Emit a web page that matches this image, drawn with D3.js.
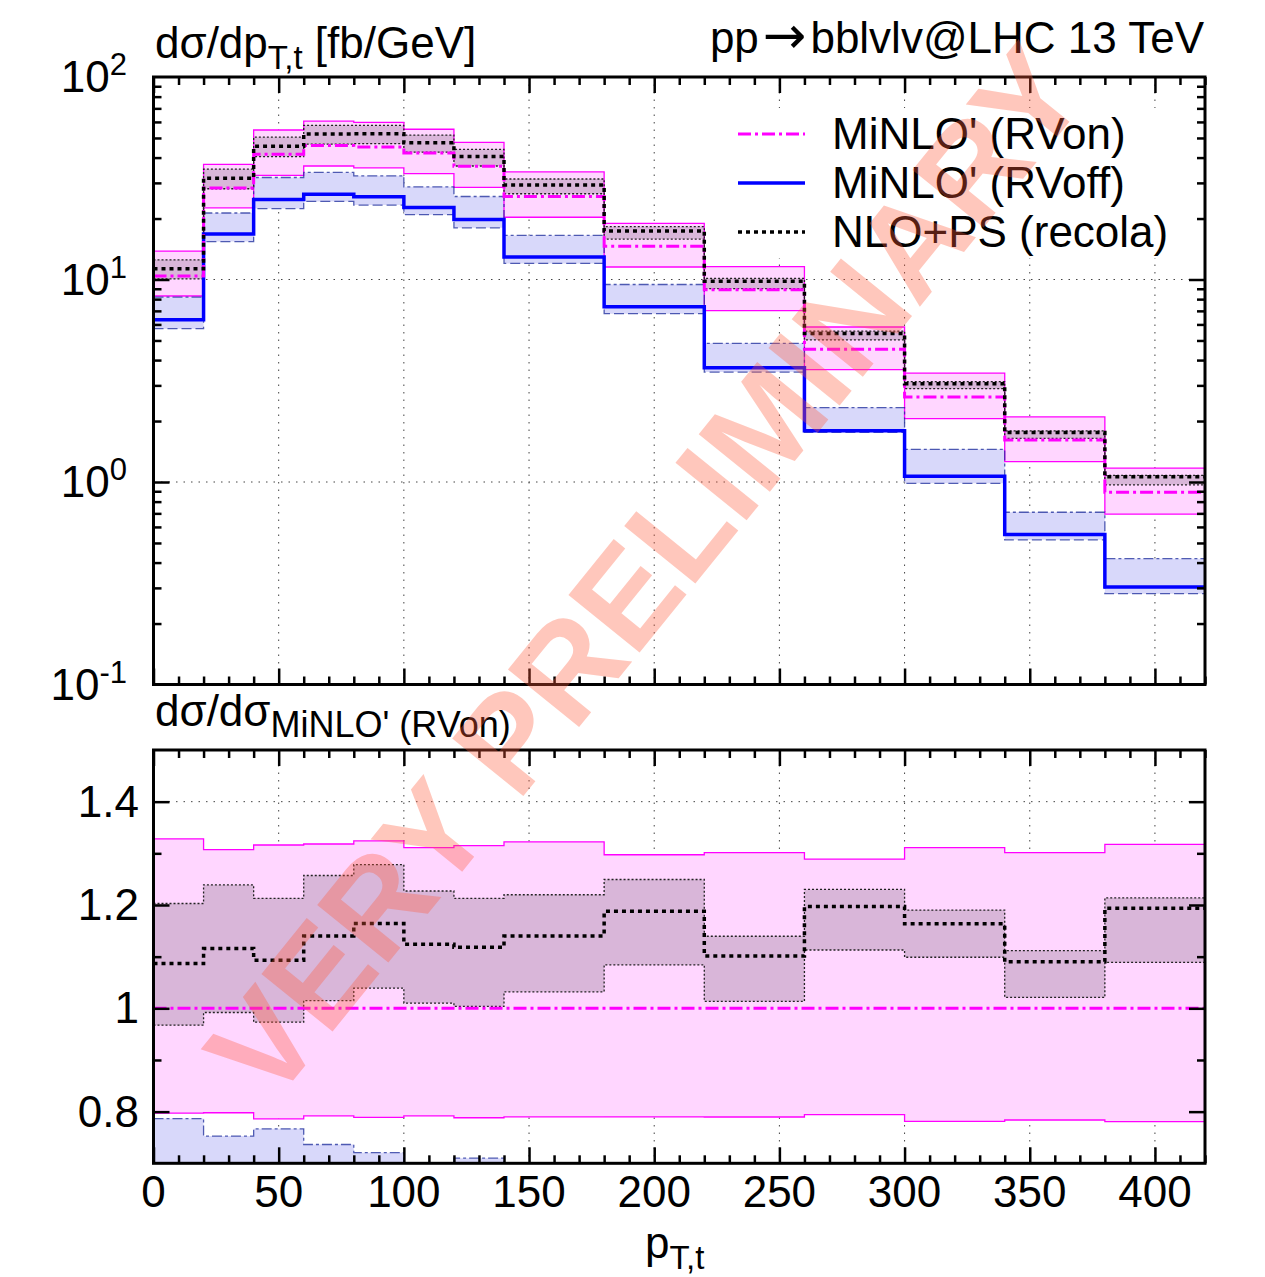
<!DOCTYPE html>
<html><head><meta charset="utf-8">
<script src="https://cdn.jsdelivr.net/npm/d3@7"></script>
<style>
body{margin:0;background:#fff}
text{font-family:"Liberation Sans",Arial,Helvetica,sans-serif;fill:#000}
</style>
</head><body>
<svg id="c" width="1265" height="1277"></svg>
<script>
// bin edges of the top-quark transverse momentum [GeV]
const binEdges = [0,20,40,60,80,100,120,140,180,220,260,300,340,380,420];

// MiNLO' (RVon): central value and scale-variation band [fb/GeV]
const rvonCentral = [10.4,28.3,41.6,45.9,45.1,42.1,36.2,25.7,14.6,8.89,4.52,2.63,1.61,0.889];
const rvonHigh    = [13.81,36.99,54.75,60.50,59.71,55.19,47.60,33.98,18.94,11.57,5.826,3.448,2.095,1.171];
const rvonLow     = [8.29,22.58,32.70,36.35,35.58,33.34,28.53,20.30,11.53,7.02,3.59,2.054,1.262,0.694];

// MiNLO' (RVoff)
const rvoffCentral = [6.33,16.8,24.8,26.4,25.6,22.7,19.8,12.9,7.34,3.67,1.79,1.067,0.55,0.303];
const rvoffHigh    = [8.18,21.3,31.9,33.8,32.5,28.7,25.7,16.5,9.45,4.84,2.33,1.45,0.709,0.418];
const rvoffLow     = [5.72,15.4,22.4,24.3,23.3,20.9,18.0,12.0,6.78,3.49,1.76,0.985,0.518,0.281];

// NLO+PS (recola)
const nloCentral = [11.30,31.58,45.47,52.33,52.50,47.32,40.47,29.30,17.34,9.79,5.41,3.06,1.755,1.061];
const nloHigh    = [12.51,35.06,50.46,57.70,57.64,51.66,43.91,31.35,18.24,10.13,5.56,3.13,1.79,1.079];
const nloLow     = [10.06,28.07,40.48,46.59,46.86,42.52,36.34,26.52,15.83,9.01,5.03,2.89,1.644,0.968];

const xTicks = [0,50,100,150,200,250,300,350,400];
const yTopTicks = [-1,0,1,2];          // decade exponents
const yBotTicks = [0.8,1,1.2,1.4];
const yBotLabels = ["0.8","1","1.2","1.4"];
const legendLabels = ["MiNLO' (RVon)","MiNLO' (RVoff)","NLO+PS (recola)"];

const svg = d3.select("#c");
const FS = 44, FSS = 35, FSUP = 31;

const x = d3.scaleLinear([0,420],[153.5,1205]);
const yTop = d3.scaleLog([0.1,100],[684.5,77]);
const yBot = d3.scaleLinear([0.7,1.5],[1163.3,750]);

const defs = svg.append("defs");
function clip(id, y0, y1){
  defs.append("clipPath").attr("id",id).append("rect")
    .attr("x",x(0)).attr("y",y0).attr("width",x(420)-x(0)).attr("height",y1-y0);
}
clip("clipTop",77,684.5);
clip("clipBot",750,1163.3);

function steps(vals){
  const pts = vals.map((v,i)=>({x:binEdges[i], v}));
  pts.push({x:binEdges[binEdges.length-1], v:vals[vals.length-1]});
  return pts;
}
function bandSteps(lo,hi){
  const pts = lo.map((v,i)=>({x:binEdges[i], lo:v, hi:hi[i]}));
  pts.push({x:binEdges[binEdges.length-1], lo:lo[lo.length-1], hi:hi[hi.length-1]});
  return pts;
}
const div = (a,b)=>a.map((v,i)=>v/b[i]);

function drawPanel(clipId, y, norm){
  const f = norm ? (arr)=>div(arr, norm) : (arr)=>arr;
  const g = svg.append("g").attr("clip-path",`url(#${clipId})`);
  const area = d3.area().x(d=>x(d.x)).y0(d=>y(d.lo)).y1(d=>y(d.hi)).curve(d3.curveStepAfter);
  const line = d3.line().x(d=>x(d.x)).y(d=>y(d.v)).curve(d3.curveStepAfter);

  // bands
  g.append("path").datum(bandSteps(f(rvonLow),f(rvonHigh))).attr("d",area).attr("fill","#ffd6ff");
  g.append("path").datum(bandSteps(f(rvoffLow),f(rvoffHigh))).attr("d",area).attr("fill","#d8d8fa");
  g.append("path").datum(bandSteps(f(nloLow),f(nloHigh))).attr("d",area).attr("fill","#000").attr("fill-opacity",0.15);

  // band edges
  const edge = (vals, col, w, dash, op)=>g.append("path").datum(steps(vals)).attr("d",line)
      .attr("fill","none").attr("stroke",col).attr("stroke-width",w)
      .attr("stroke-dasharray",dash).attr("stroke-opacity",op||1);
  edge(f(rvonHigh),"#ff00ff",1.3,null);
  edge(f(rvonLow),"#ff00ff",1.3,null);
  edge(f(rvoffHigh),"#1a2a99",1.3,"10,3,3,3",0.75);
  edge(f(rvoffLow),"#1a2a99",1.3,"10,4",0.75);
  edge(f(nloHigh),"#222",1.3,"2,2");
  edge(f(nloLow),"#222",1.3,"2,2");

  return {g, line, f};
}

function drawCentral(p){
  const {g,line,f} = p;
  g.append("path").datum(steps(f(rvoffCentral))).attr("d",line).attr("fill","none")
    .attr("stroke","#0000ff").attr("stroke-width",3.5);
  g.append("path").datum(steps(f(rvonCentral))).attr("d",line).attr("fill","none")
    .attr("stroke","#ff00ff").attr("stroke-width",3).attr("stroke-dasharray","13,4,3,4");
  g.append("path").datum(steps(f(nloCentral))).attr("d",line).attr("fill","none")
    .attr("stroke","#000").attr("stroke-width",3.5).attr("stroke-dasharray","4,4");
}

// grid lines
function grid(y0,y1,hVals,yScale){
  const gg = svg.append("g").attr("stroke","#444").attr("stroke-width",1).attr("stroke-dasharray","1.5,6");
  xTicks.filter(v=>v>0).forEach(v=>gg.append("line").attr("x1",x(v)).attr("x2",x(v)).attr("y1",y0).attr("y2",y1));
  hVals.forEach(v=>gg.append("line").attr("x1",x(0)).attr("x2",x(420)).attr("y1",yScale(v)).attr("y2",yScale(v)));
}
grid(77,684.5,[1,10],yTop);
grid(750,1163.3,[0.8,1,1.2,1.4],yBot);

const topPanel = drawPanel("clipTop", yTop, null);
const ratioPanel = drawPanel("clipBot", yBot, rvonCentral);

// legend (opaque key box)
const lg = svg.append("g");
lg.append("rect").attr("x",714).attr("y",108).attr("width",484).attr("height",150).attr("fill","#fff");
const legY = [134,183,232];
const legStyles = [
  {c:"#ff00ff", w:3, d:"13,4,3,4"},
  {c:"#0000ff", w:3.5, d:null},
  {c:"#000", w:3.5, d:"4,4"}
];
legendLabels.forEach((t,i)=>{
  lg.append("line").attr("x1",738).attr("x2",805).attr("y1",legY[i]).attr("y2",legY[i])
    .attr("stroke",legStyles[i].c).attr("stroke-width",legStyles[i].w).attr("stroke-dasharray",legStyles[i].d);
  lg.append("text").attr("x",832).attr("y",legY[i]+15).attr("font-size",FS).text(t);
});

drawCentral(topPanel);
drawCentral(ratioPanel);

// frames and ticks
function styleAxis(sel){
  sel.select(".domain").remove();
  sel.selectAll(".tick text").remove();
  sel.selectAll(".tick line").attr("stroke","#000").attr("stroke-width",2.5);
}
const xMinor = d3.range(0,421,10).filter(v=>v%50!==0);
function xAxes(yb, yt){
  svg.append("g").attr("transform",`translate(0,${yb})`).call(d3.axisBottom(x).tickValues(xTicks).tickSize(-16)).call(styleAxis);
  svg.append("g").attr("transform",`translate(0,${yb})`).call(d3.axisBottom(x).tickValues(xMinor).tickSize(-8)).call(styleAxis);
  svg.append("g").attr("transform",`translate(0,${yt})`).call(d3.axisTop(x).tickValues(xTicks).tickSize(-16)).call(styleAxis);
  svg.append("g").attr("transform",`translate(0,${yt})`).call(d3.axisTop(x).tickValues(xMinor).tickSize(-8)).call(styleAxis);
}
xAxes(684.5,77);
xAxes(1163.3,750);

function yAxes(scale, major, minor){
  svg.append("g").attr("transform",`translate(${x(0)},0)`).call(d3.axisLeft(scale).tickValues(major).tickSize(-16)).call(styleAxis);
  svg.append("g").attr("transform",`translate(${x(0)},0)`).call(d3.axisLeft(scale).tickValues(minor).tickSize(-8)).call(styleAxis);
  svg.append("g").attr("transform",`translate(${x(420)},0)`).call(d3.axisRight(scale).tickValues(major).tickSize(-16)).call(styleAxis);
  svg.append("g").attr("transform",`translate(${x(420)},0)`).call(d3.axisRight(scale).tickValues(minor).tickSize(-8)).call(styleAxis);
}
const logMinor = [];
[0.1,1,10].forEach(b=>{ for(let k=2;k<=9;k++) logMinor.push(b*k); });
yAxes(yTop, [1,10], logMinor);
yAxes(yBot, yBotTicks, [0.9,1.1,1.3]);

svg.append("rect").attr("x",x(0)).attr("y",77).attr("width",x(420)-x(0)).attr("height",684.5-77)
  .attr("fill","none").attr("stroke","#000").attr("stroke-width",3);
svg.append("rect").attr("x",x(0)).attr("y",750).attr("width",x(420)-x(0)).attr("height",1163.3-750)
  .attr("fill","none").attr("stroke","#000").attr("stroke-width",3);

// tick labels
xTicks.forEach(v=>svg.append("text").attr("x",x(v)).attr("y",1207).attr("text-anchor","middle")
  .attr("font-size",FS).text(v));
yTopTicks.forEach(e=>{
  const t = svg.append("text").attr("x",127).attr("y",yTop(Math.pow(10,e))+15).attr("text-anchor","end").attr("font-size",FS);
  t.append("tspan").text("10");
  t.append("tspan").attr("dy",-17).attr("font-size",FSUP).text(e);
});
yBotTicks.forEach((v,i)=>svg.append("text").attr("x",139).attr("y",yBot(v)+15).attr("text-anchor","end")
  .attr("font-size",FS).text(yBotLabels[i]));

// titles
function subText(xp, yp, main, sub, rest, subSize){
  const t = svg.append("text").attr("x",xp).attr("y",yp).attr("font-size",FS);
  t.append("tspan").text(main);
  t.append("tspan").attr("dy",11).attr("font-size",subSize||FSS).text(sub);
  if(rest) t.append("tspan").attr("dy",-11).text(rest);
  return t;
}
subText(155,58,"dσ/dp","T,t"," [fb/GeV]",33);
const proc = svg.append("text").attr("x",1204).attr("y",53).attr("text-anchor","end").attr("font-size",FS);
proc.append("tspan").text("pp");
proc.append("tspan").attr("dx",4).attr("font-size",52).style("font-family","'DejaVu Sans'").text("→");
proc.append("tspan").attr("dx",4).text("bblvlv@LHC 13 TeV");
subText(155,726,"dσ/dσ","MiNLO' (RVon)",null,36);
subText(645,1258,"p","T,t",null,33);

// watermark
svg.append("text").attr("transform","translate(644,571) rotate(-51)")
  .attr("text-anchor","middle").attr("dy","0.36em")
  .attr("font-size",133).attr("font-weight","bold")
  .style("fill","#ff5a3c").style("fill-opacity",0.34)
  .text("VERY PRELIMINARY");
</script>
</body></html>
